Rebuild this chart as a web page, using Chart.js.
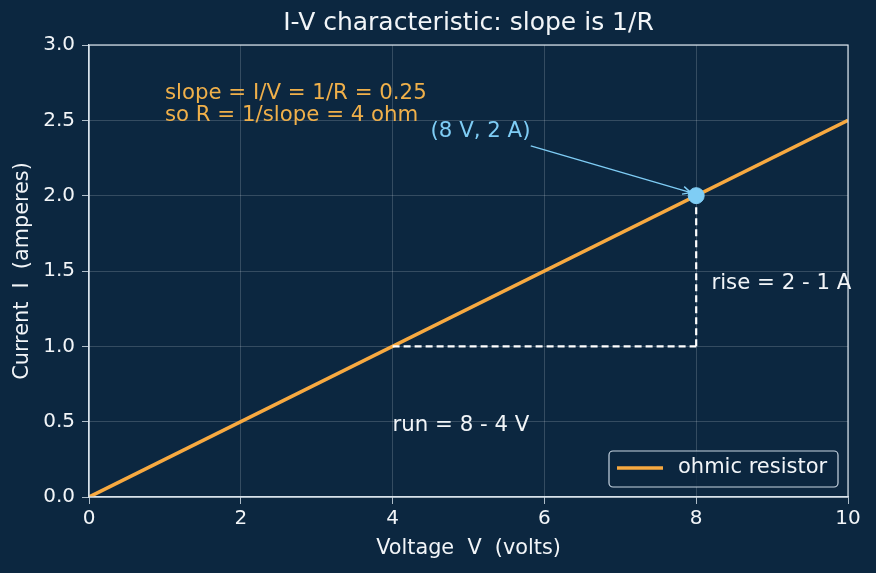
<!DOCTYPE html>
<html>
<head>
<meta charset="utf-8">
<script src="https://cdn.jsdelivr.net/npm/chart.js@4"></script>
<style>
  html, body { margin: 0; background: #0c2740; }
  #wrap { width: 876px; height: 573px; }
</style>
</head>
<body>
<div id="wrap"><canvas id="chart"></canvas></div>
<script>
// data
const voltage = [0, 10];
const current = [0, 2.5];
const runV = [4, 8];
const runI = [1, 1];
const riseV = [8, 8];
const riseI = [1, 2];
const pointV = [8];
const pointI = [2];

const BG = '#0c2740';
const ORANGE = '#f7a940';
const BLUE = '#7fcdf5';
const FG = '#f2f5f8';
const FONT = '"DejaVu Sans", sans-serif';
const TITLE = 'I-V characteristic: slope is 1/R';

const toXY = (xs, ys) => xs.map((x, i) => ({ x: x, y: ys[i] }));

// text notes, placed in data units
const notes = [
  { x: 1.0, y: 2.68, lines: ['slope = I/V = 1/R = 0.25', 'so R = 1/slope = 4 ohm'], color: '#f0b04a' },
  { x: 4.5, y: 2.423, lines: ['(8 V, 2 A)'], color: BLUE },
  { x: 8.2, y: 1.42, lines: ['rise = 2 - 1 A'], color: FG },
  { x: 4.0, y: 0.472, lines: ['run = 8 - 4 V'], color: FG }
];
const arrow = { from: [5.82, 2.33], to: [7.93, 2.02] };

const extras = {
  id: 'extras',
  beforeDraw(chart) {
    const c = chart.ctx;
    c.save();
    c.fillStyle = BG;
    c.fillRect(0, 0, chart.width, chart.height);
    c.restore();
  },
  afterDatasetsDraw(chart) {
    const c = chart.ctx;
    const xs = chart.scales.x, ys = chart.scales.y;
    const a = chart.chartArea;
    c.save();
    // frame
    c.strokeStyle = '#d9e3ec';
    c.lineWidth = 1.2;
    c.strokeRect(a.left, a.top, a.right - a.left, a.bottom - a.top);

    // title over the plot area
    c.fillStyle = FG;
    c.font = '25px ' + FONT;
    c.textAlign = 'center';
    c.textBaseline = 'middle';
    c.fillText(TITLE, (a.left + a.right) / 2, 23);

    // notes
    c.font = '21.3px ' + FONT;
    c.textAlign = 'left';
    notes.forEach(n => {
      c.fillStyle = n.color;
      n.lines.forEach((t, i) => {
        c.fillText(t, xs.getPixelForValue(n.x), ys.getPixelForValue(n.y) + i * 22);
      });
    });

    // arrow
    const x1 = xs.getPixelForValue(arrow.from[0]), y1 = ys.getPixelForValue(arrow.from[1]);
    const x2 = xs.getPixelForValue(arrow.to[0]), y2 = ys.getPixelForValue(arrow.to[1]);
    const ang = Math.atan2(y2 - y1, x2 - x1);
    c.strokeStyle = BLUE;
    c.lineWidth = 1.4;
    c.beginPath();
    c.moveTo(x1, y1);
    c.lineTo(x2, y2);
    c.moveTo(x2 - 9 * Math.cos(ang - 0.45), y2 - 9 * Math.sin(ang - 0.45));
    c.lineTo(x2, y2);
    c.lineTo(x2 - 9 * Math.cos(ang + 0.45), y2 - 9 * Math.sin(ang + 0.45));
    c.stroke();

    // legend
    const lx = 609, ly = 451, lw = 229, lh = 36;
    c.fillStyle = 'rgba(12,39,64,0.85)';
    c.strokeStyle = '#c8d5e1';
    c.lineWidth = 1.2;
    c.beginPath();
    c.roundRect(lx, ly, lw, lh, 4);
    c.fill();
    c.stroke();
    c.strokeStyle = ORANGE;
    c.lineWidth = 3.5;
    c.beginPath();
    c.moveTo(lx + 8, ly + 17);
    c.lineTo(lx + 54, ly + 17);
    c.stroke();
    c.fillStyle = FG;
    c.font = '21px ' + FONT;
    c.fillText(chart.data.datasets[0].label, lx + 69, ly + 17);
    c.restore();
  }
};

new Chart(document.getElementById('chart'), {
  type: 'scatter',
  data: {
    datasets: [
      {
        label: 'ohmic resistor',
        data: toXY(voltage, current),
        showLine: true,
        borderColor: ORANGE,
        borderWidth: 3.6,
        pointRadius: 0,
        order: 2
      },
      {
        label: 'run',
        data: toXY(runV, runI),
        showLine: true,
        borderColor: '#ffffff',
        borderWidth: 2.2,
        borderDash: [7, 4],
        pointRadius: 0,
        order: 1
      },
      {
        label: 'rise',
        data: toXY(riseV, riseI),
        showLine: true,
        borderColor: '#ffffff',
        borderWidth: 2.2,
        borderDash: [7, 4],
        pointRadius: 0,
        order: 1
      },
      {
        label: 'point',
        data: toXY(pointV, pointI),
        backgroundColor: BLUE,
        borderColor: BLUE,
        pointRadius: 8,
        order: 0
      }
    ]
  },
  options: {
    responsive: true,
    maintainAspectRatio: false,
    animation: false,
    layout: { padding: { left: 0, right: 28, top: 45, bottom: 0 } },
    plugins: {
      legend: { display: false },
      tooltip: { enabled: false },
      title: { display: false }
    },
    scales: {
      x: {
        type: 'linear',
        min: 0, max: 10,
        ticks: { stepSize: 2, color: FG, font: { family: FONT, size: 20 }, padding: 3, maxRotation: 0 },
        grid: { color: 'rgba(255,255,255,0.22)', lineWidth: 0.8, tickColor: '#d9e3ec', tickLength: 7 },
        border: { color: '#d9e3ec', width: 1.2 },
        title: { display: true, text: 'Voltage  V  (volts)', color: FG, font: { family: FONT, size: 20.8 }, padding: { top: 0, bottom: 12 } },
        afterFit(s) { s.height = 76; }
      },
      y: {
        type: 'linear',
        min: 0, max: 3,
        ticks: { stepSize: 0.5, color: FG, font: { family: FONT, size: 20 }, padding: 7, callback: v => v.toFixed(1) },
        grid: { color: 'rgba(255,255,255,0.22)', lineWidth: 0.8, tickColor: '#d9e3ec', tickLength: 7 },
        border: { color: '#d9e3ec', width: 1.2 },
        title: { display: true, text: 'Current  I  (amperes)', color: FG, font: { family: FONT, size: 20.8 }, padding: { top: 10, bottom: 0 } },
        afterFit(s) { s.width = 89; }
      }
    }
  },
  plugins: [extras]
});
</script>
</body>
</html>
